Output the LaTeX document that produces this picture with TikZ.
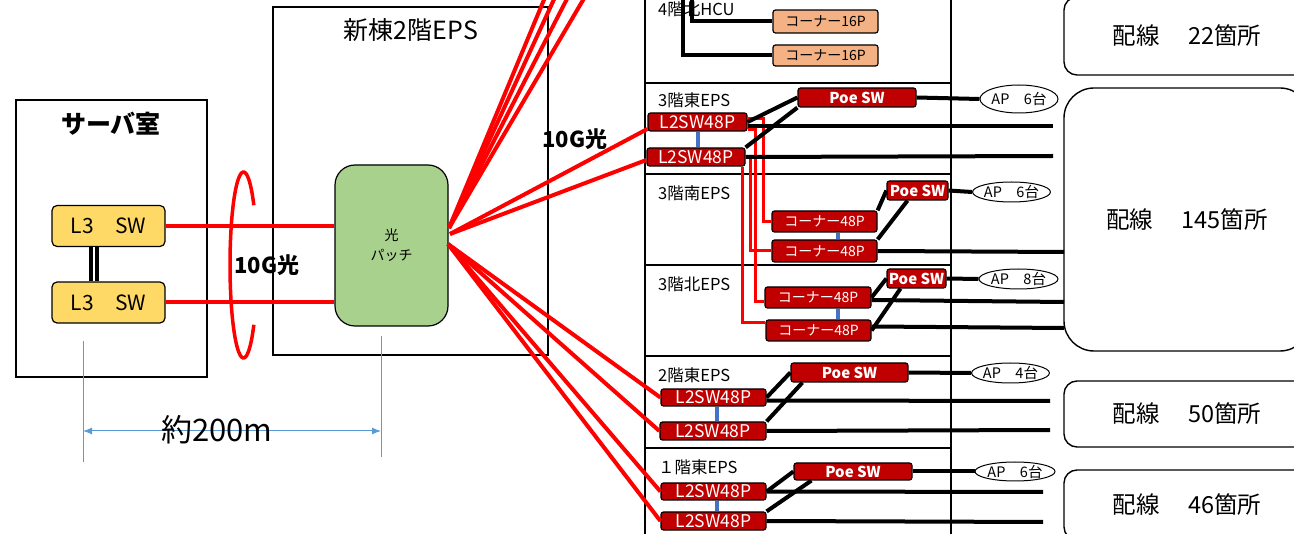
\documentclass[tikz,border=0pt]{standalone}
\usepackage{fontspec}
\setmainfont{Noto Sans CJK JP}
\usetikzlibrary{shapes.geometric,arrows.meta}

\definecolor{swyellow}{HTML}{FFD966}
\definecolor{patchgreen}{HTML}{A9D18E}
\definecolor{swred}{HTML}{C00000}
\definecolor{hcuorange}{HTML}{F4B183}
\definecolor{linkblue}{HTML}{4472C4}
\definecolor{dimblue}{HTML}{5B9BD5}

\begin{document}
\begin{tikzpicture}[x=1pt,y=-1pt,
  frame/.style={draw, line width=1.4pt},
  title/.style={inner sep=0pt, font=\fontsize{25}{25}\selectfont},
  l3sw/.style={draw, line width=1.2pt, fill=swyellow, rounded corners=5pt, minimum width=113pt, minimum height=41pt, inner sep=0pt, font=\fontsize{21}{21}\selectfont},
  patchbox/.style={draw, line width=1.2pt, fill=patchgreen, rounded corners=20pt, minimum width=113pt, minimum height=161pt, inner sep=0pt, align=center, font=\fontsize{14}{20}\selectfont},
  redsw/.style={draw, line width=1.2pt, fill=swred, text=white, rounded corners=2.5pt, inner sep=0pt, minimum height=18pt, font=\fontsize{17.5}{17.5}\selectfont},
  poesw/.style={redsw, minimum height=19pt, font=\bfseries\fontsize{15}{15}\selectfont},
  corner/.style={redsw, minimum width=105pt, minimum height=21pt, font=\fontsize{14}{14}\selectfont},
  hcubox/.style={corner, fill=hcuorange, text=black},
  apnode/.style={ellipse, draw, line width=1pt, inner sep=0pt, minimum height=20pt, font=\fontsize{14.5}{14.5}\selectfont},
  floor/.style={anchor=west, inner sep=0pt, font=\fontsize{16.5}{16.5}\selectfont},
  haisen/.style={draw, line width=1.4pt, rounded corners=13pt, inner sep=0pt, minimum width=246pt, font=\fontsize{23.5}{23.5}\selectfont},
  glabel/.style={inner sep=0pt, font=\bfseries\fontsize{22}{22}\selectfont},
  fiber/.style={red, line width=4pt},
  cable/.style={red, line width=3pt},
  wire/.style={black, line width=4pt},
  bluelink/.style={linkblue, line width=4pt},
  dimline/.style={dimblue, line width=1pt}]

\useasboundingbox (0,0) rectangle (1294,534);
\clip (0,0) rectangle (1294,534);

% server room
\draw[frame] (16,100) rectangle (207,377);
\node[title] (srv) at (111,124) {\bfseries サーバ室};
\node[l3sw] (L3a) at (108.5,226) {L3　SW};
\node[l3sw] (L3b) at (108.5,302.5) {L3　SW};
\draw[double, line width=3.5pt, double distance=2.5pt] ([xshift=-14.5pt]L3a.south) -- ([xshift=-14.5pt]L3b.north);

% EPS of the new building
\draw[frame] (273,7) rectangle (548,355);
\node[title] (eps) at (411,30) {新棟2階EPS};
\node[patchbox] (patch) at (391.5,245.5) {光\\パッチ};

\draw[fiber] (L3a.east) -- (L3a.east -| patch.west);
\draw[fiber] (L3b.east) -- (L3b.east -| patch.west);
\draw[fiber, line width=3.5pt] plot[smooth, domain=40:320, samples=60] ({243.5+13.5*cos(\x)},{265-93*sin(\x)});
\node[glabel] (g10a) at (267,265) {10G光};

% distance
\coordinate (mL1) at (83,341);
\coordinate (mL2) at (83,462);
\coordinate (mR1) at (381,336);
\coordinate (mR2) at (381,457);
\coordinate (aL) at (83,431);
\coordinate (aR) at (381,431);
\draw[dimline] (mL1) -- (mL2);
\draw[dimline] (mR1) -- (mR2);
\draw[dimline, {Latex[length=9pt,width=7pt]}-{Latex[length=9pt,width=7pt]}] (aL) -- (aR);
\node[inner sep=0pt, font=\fontsize{31}{31}\selectfont] (dist) at (217,430) {約200m};

% floor panel
\draw[frame] (645,-3) -- (645,537);
\draw[frame] (951,-3) -- (951,537);
\foreach \y in {83,174,265,356,448}
  \draw[frame] (645,\y) -- (951,\y);

\node[floor] (fl4) at (658,9) {4階北HCU};
\node[floor] (fl3e) at (658,100) {3階東EPS};
\node[floor] (fl3s) at (658,193) {3階南EPS};
\node[floor] (fl3n) at (658,284) {3階北EPS};
\node[floor] (fl2) at (658,375) {2階東EPS};
\node[floor] (fl1) at (658,467) {１階東EPS};

% 4F north HCU
\node[hcubox, minimum height=23pt] (c16a) at (825.5,21.5) {コーナー16P};
\node[hcubox] (c16b) at (825.5,55.5) {コーナー16P};
\coordinate (hcu1) at (692,-3);
\coordinate (hcu2) at (683,-3);
\draw[wire] (hcu1) |- (c16a.west);
\draw[wire] (hcu2) |- (c16b.west);

% 3F east
\node[redsw, minimum width=99pt] (sw3ea) at (697.5,122) {L2SW48P};
\node[redsw, minimum width=98pt] (sw3eb) at (696,157) {L2SW48P};
\node[poesw, minimum width=118pt] (poe3e) at (857,97.5) {Poe SW};
\node[apnode, minimum width=78pt, minimum height=28pt] (ap3e) at (1019,99) {AP　6台};

% 3F south
\node[corner] (c48sa) at (824.5,221.5) {コーナー48P};
\node[corner, minimum height=22pt] (c48sb) at (824.5,251) {コーナー48P};
\node[poesw, minimum width=61pt] (poe3s) at (917.5,190.5) {Poe SW};
\node[apnode, minimum width=77pt] (ap3s) at (1011.5,192) {AP　6台};

% 3F north
\node[corner, minimum width=106pt] (c48na) at (818,297.5) {コーナー48P};
\node[corner] (c48nb) at (818.5,330.5) {コーナー48P};
\node[poesw, minimum width=59pt] (poe3n) at (916.5,278.5) {Poe SW};
\node[apnode, minimum width=79pt] (ap3n) at (1018.5,279) {AP　8台};

% 2F east
\node[redsw, minimum width=105pt, minimum height=17pt] (sw2a) at (713.5,397.5) {L2SW48P};
\node[redsw, minimum width=106pt] (sw2b) at (713,431) {L2SW48P};
\node[poesw, minimum width=117pt] (poe2) at (849.5,372.5) {Poe SW};
\node[apnode, minimum width=75pt] (ap2) at (1010.5,373) {AP　4台};

% 1F east
\node[redsw, minimum width=105pt, minimum height=17pt] (sw1a) at (713.5,491.5) {L2SW48P};
\node[redsw, minimum width=105pt] (sw1b) at (713.5,521) {L2SW48P};
\node[poesw, minimum width=118pt, minimum height=17pt] (poe1) at (853,471.5) {Poe SW};
\node[apnode, minimum width=80pt, minimum height=19pt] (ap1) at (1015,471.5) {AP　6台};

% wiring areas
\node[haisen, minimum height=78pt] (h22) at (1187,36) {配線\hspace{1.2em}22箇所};
\node[haisen, minimum height=263pt, rounded corners=30pt] (h145) at (1187,219.5) {配線\hspace{1.2em}145箇所};
\node[haisen, minimum height=66pt] (h50) at (1187,414) {配線\hspace{1.2em}50箇所};
\node[haisen, minimum height=70pt] (h46) at (1187,505) {配線\hspace{1.2em}46箇所};

% red cables 3F east -> corners
\draw[cable] ([yshift=3pt]sw3ea.east) -- ++(16,0) |- (c48sa.west);
\draw[cable] ([yshift=-8pt]sw3ea.east) -- ++(8,0) |- ([yshift=-4pt]c48na.west);
\draw[cable] (sw3eb.east) -- ++(5,0) |- (c48sb.west);
\draw[cable] ([xshift=-3pt]sw3eb.south east) |- ([yshift=8pt]c48nb.west);

% blue stack links
\draw[bluelink] (sw3ea.south) -- (sw3ea.south |- sw3eb.north);
\draw[bluelink] ([xshift=13.5pt]c48sa.south) -- ([xshift=13.5pt]c48sb.north);
\draw[bluelink] ([xshift=20pt]c48na.south) -- ([xshift=19.5pt]c48nb.north);
\draw[bluelink] ([xshift=3.5pt]sw2a.south) -- ([xshift=4pt]sw2b.north);
\draw[bluelink] ([xshift=3.5pt]sw1a.south) -- ([xshift=3.5pt]sw1b.north);

% free ends of the floor lines
\coordinate (o3ea) at (1053,126);
\coordinate (o3eb) at (1053,156);
\coordinate (o3s) at (1064,252);
\coordinate (o3na) at (1064,302);
\coordinate (o3nb) at (1064,328);
\coordinate (o2a) at (1050,401);
\coordinate (o2b) at (1050,430);
\coordinate (o1a) at (1043,492);
\coordinate (o1b) at (1043,522);

% black wires
\draw[wire] (sw3ea.east) -- (poe3e.west);
\draw[wire] (sw3eb.north east) -- (poe3e.south west);
\draw[wire] (poe3e.east) -- (ap3e.west);
\draw[wire] ([yshift=-4pt]sw3ea.east) -- (o3ea);
\draw[wire] (sw3eb.east) -- (o3eb);

\draw[wire] (c48sa.north east) -- (poe3s.west);
\draw[wire] (c48sb.north east) -- ([xshift=-10pt]poe3s.south);
\draw[wire] (poe3s.east) -- (ap3s.west);
\draw[wire] (c48sb.east) -- (o3s);

\draw[wire] (c48na.east) -- (poe3n.west);
\draw[wire] (c48nb.east) -- ([xshift=-16pt]poe3n.south);
\draw[wire] (poe3n.east) -- (ap3n.west);
\draw[wire] ([yshift=-2.5pt]c48na.east) -- (o3na);
\draw[wire] ([yshift=4pt]c48nb.east) -- (o3nb);

\draw[wire] (sw2a.east) -- (poe2.west);
\draw[wire] (sw2b.north east) -- ([xshift=12pt]poe2.south west);
\draw[wire] (poe2.east) -- (ap2.west);
\draw[wire] ([yshift=-3pt]sw2a.east) -- (o2a);
\draw[wire] (sw2b.east) -- (o2b);

\draw[wire] (sw1a.east) -- (poe1.west);
\draw[wire] (sw1b.north east) -- ([xshift=18pt]poe1.south west);
\draw[wire] (poe1.east) -- (ap1.west);
\draw[wire] (sw1a.east) -- (o1a);
\draw[wire] (sw1b.east) -- (o1b);

% fibres out of the patch panel
\coordinate (hubT) at (449,228);
\coordinate (hubM) at (450,234);
\coordinate (hubL) at (448,244);
\coordinate (up1) at (546,-5);
\coordinate (up2) at (556,-5);
\coordinate (up3) at (569,-5);
\coordinate (up4) at (586,-5);
\foreach \u in {up1,up2,up3,up4}
  \draw[fiber] (hubT) -- (\u);
\draw[fiber] (hubM) -- ([yshift=-7pt]sw3ea.west);
\draw[fiber] (hubM) -- ([yshift=-3pt]sw3eb.west);
\draw[fiber] (hubL) -- (sw2a.west);
\draw[fiber] (hubL) -- (sw2b.west);
\draw[fiber] (hubL) -- (sw1a.west);
\draw[fiber] (hubL) -- (sw1b.west);
\node[glabel] (g10b) at (575,139) {10G光};

\end{tikzpicture}
\end{document}
